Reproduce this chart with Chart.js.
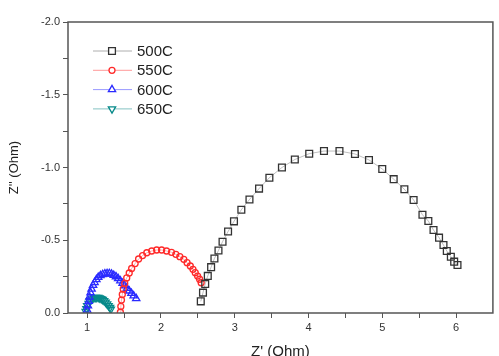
<!DOCTYPE html>
<html>
<head>
<meta charset="utf-8">
<script src="https://cdn.jsdelivr.net/npm/chart.js@4.4.0/dist/chart.umd.min.js"></script>
<style>
  html, body { margin: 0; padding: 0; background: #fff; }
  #wrap { width: 499px; height: 356px; }
</style>
</head>
<body>
<div id="wrap"><canvas id="nyquist" width="499" height="356"></canvas></div>
<script>
// Nyquist data, Z' (x) and Z'' (y) in Ohm
const seriesLabels = ['500C', '550C', '600C', '650C'];

const zRe500 = [2.54, 2.57, 2.60, 2.635, 2.68, 2.725, 2.78, 2.835, 2.91, 2.99, 3.09, 3.20, 3.33, 3.47,
  3.64, 3.815, 4.01, 4.21, 4.42, 4.63, 4.82, 5.00, 5.155, 5.30, 5.425, 5.545, 5.625, 5.695, 5.77,
  5.83, 5.875, 5.93, 5.975, 6.02];
const zIm500 = [-0.08, -0.14, -0.2, -0.255, -0.315, -0.375, -0.43, -0.49, -0.56, -0.63, -0.71, -0.78, -0.855, -0.93,
  -1.0, -1.055, -1.095, -1.113, -1.113, -1.093, -1.052, -0.99, -0.92, -0.85, -0.777, -0.675, -0.632, -0.57, -0.518,
  -0.467, -0.426, -0.387, -0.353, -0.33];

const zRe550 = [1.45, 1.456, 1.465, 1.476, 1.489, 1.509, 1.536, 1.57, 1.603, 1.65, 1.697, 1.751, 1.808, 1.875,
  1.942, 2.009, 2.076, 2.143, 2.202, 2.256, 2.31, 2.354, 2.398, 2.434, 2.465, 2.497, 2.524, 2.545];
const zIm550 = [-0.005, -0.045, -0.089, -0.127, -0.165, -0.203, -0.241, -0.275, -0.306, -0.34, -0.371, -0.395, -0.414, -0.426,
  -0.433, -0.433, -0.426, -0.417, -0.403, -0.387, -0.369, -0.346, -0.323, -0.3, -0.277, -0.254, -0.232, -0.208];

const zRe600 = [1.0, 1.01, 1.02, 1.03, 1.045, 1.06, 1.08, 1.1, 1.125, 1.15, 1.18, 1.21, 1.24, 1.27,
  1.3, 1.33, 1.36, 1.39, 1.42, 1.45, 1.48, 1.51, 1.54, 1.57, 1.6, 1.63, 1.665];
const zIm600 = [-0.02, -0.05, -0.08, -0.11, -0.14, -0.165, -0.19, -0.21, -0.23, -0.245, -0.257, -0.265, -0.27, -0.272,
  -0.272, -0.268, -0.26, -0.25, -0.237, -0.222, -0.205, -0.188, -0.17, -0.152, -0.135, -0.118, -0.1];

const zRe650 = [0.98, 0.99, 1.0, 1.02, 1.035, 1.05, 1.07, 1.09, 1.11, 1.13, 1.15, 1.17, 1.19, 1.21,
  1.23, 1.25, 1.27, 1.29, 1.31, 1.32];
const zIm650 = [-0.01, -0.03, -0.05, -0.065, -0.08, -0.09, -0.098, -0.103, -0.106, -0.107, -0.106, -0.103, -0.098, -0.092,
  -0.084, -0.074, -0.062, -0.05, -0.037, -0.025];

const xMin = 0.74, xMax = 6.5;
const yMin = -2.0, yMax = 0.0;

function pairs(xs, ys) {
    return xs.map((x, i) => ({ x: x, y: ys[i] }));
}

function makeSeries(label, xs, ys, color, lineColor, style, radius, rotation) {
    return {
        label: label,
        data: pairs(xs, ys),
        showLine: true,
        borderColor: lineColor,
        borderWidth: 0.8,
        pointStyle: style,
        pointRotation: rotation,
        pointRadius: radius,
        pointHoverRadius: radius,
        pointBorderColor: color,
        pointBackgroundColor: 'rgba(0,0,0,0)',
        pointBorderWidth: 1.3,
        legendLine: lineColor
    };
}

// frame + legend drawn inside the plot, top left
const frameAndLegend = {
    id: 'frameAndLegend',
    afterDatasetsDraw(chart) {
        const ctx = chart.ctx;
        const a = chart.chartArea;
        ctx.save();
        ctx.strokeStyle = '#555';
        ctx.lineWidth = 1.5;
        ctx.strokeRect(a.left, a.top, a.right - a.left, a.bottom - a.top);

        chart.data.datasets.forEach((ds, i) => {
            const y = 51 + i * 19.3;
            ctx.strokeStyle = ds.legendLine;
            ctx.lineWidth = 1;
            ctx.beginPath();
            ctx.moveTo(93, y);
            ctx.lineTo(132, y);
            ctx.stroke();
            ctx.strokeStyle = ds.pointBorderColor;
            ctx.fillStyle = '#fff';
            ctx.lineWidth = 1.3;
            Chart.helpers.drawPoint(ctx, {
                pointStyle: ds.pointStyle,
                rotation: ds.pointRotation,
                radius: ds.pointRadius,
                borderWidth: 1.3
            }, 112, y);
            ctx.fillStyle = '#222';
            ctx.font = '15px "Liberation Sans", Arial, sans-serif';
            ctx.textBaseline = 'middle';
            ctx.textAlign = 'left';
            ctx.fillText(ds.label, 137, y + 1);
        });
        ctx.restore();
    }
};

const ctx = document.getElementById('nyquist').getContext('2d');
new Chart(ctx, {
    type: 'scatter',
    data: {
        datasets: [
            makeSeries(seriesLabels[0], zRe500, zIm500, '#333', 'rgba(120,120,120,0.6)', 'rect', 4.8, 0),
            makeSeries(seriesLabels[1], zRe550, zIm550, '#ff2a2a', 'rgba(255,110,110,0.7)', 'circle', 3, 0),
            makeSeries(seriesLabels[2], zRe600, zIm600, '#2a2aff', 'rgba(110,110,255,0.7)', 'triangle', 4.2, 0),
            makeSeries(seriesLabels[3], zRe650, zIm650, '#078a8a', 'rgba(80,170,170,0.7)', 'triangle', 4.2, 180)
        ]
    },
    options: {
        responsive: false,
        animation: false,
        devicePixelRatio: 1,
        layout: { padding: { top: 22, right: 1, left: 0, bottom: 0 } },
        plugins: {
            legend: { display: false },
            tooltip: { enabled: false }
        },
        scales: {
            x: {
                type: 'linear',
                min: xMin,
                max: xMax,
                afterFit(scale) { scale.height = 43; },
                afterBuildTicks(scale) {
                    scale.ticks = scale.ticks.filter(t =>
                        Math.abs(t.value * 2 - Math.round(t.value * 2)) < 1e-6 &&
                        t.value > xMin && t.value < xMax - 1e-6);
                },
                grid: { drawOnChartArea: false, drawTicks: true, tickLength: 5, tickColor: '#555', tickWidth: 1 },
                border: { display: false },
                ticks: {
                    stepSize: 0.5,
                    includeBounds: false,
                    padding: 3,
                    color: '#333',
                    font: { family: '"Liberation Sans", Arial, sans-serif', size: 11 },
                    maxRotation: 0,
                    autoSkip: false,
                    callback: v => Math.abs(v - Math.round(v)) < 1e-6 ? String(Math.round(v)) : ''
                },
                title: {
                    display: true,
                    text: "Z' (Ohm)",
                    color: '#222',
                    font: { family: '"Liberation Sans", Arial, sans-serif', size: 15 },
                    padding: { top: 0, bottom: -5 }
                }
            },
            y: {
                type: 'linear',
                min: yMin,
                max: yMax,
                reverse: true,
                afterFit(scale) { scale.width = 68; },
                afterBuildTicks(scale) {
                    scale.ticks = scale.ticks.filter(t =>
                        Math.abs(t.value * 4 - Math.round(t.value * 4)) < 1e-6);
                },
                grid: { drawOnChartArea: false, drawTicks: true, tickLength: 5, tickColor: '#555', tickWidth: 1 },
                border: { display: false },
                ticks: {
                    stepSize: 0.25,
                    padding: 3,
                    color: '#333',
                    font: { family: '"Liberation Sans", Arial, sans-serif', size: 11 },
                    autoSkip: false,
                    callback: v => Math.abs(v * 2 - Math.round(v * 2)) < 1e-6 ? v.toFixed(1) : ''
                },
                title: {
                    display: true,
                    text: "Z'' (Ohm)",
                    color: '#222',
                    font: { family: '"Liberation Sans", Arial, sans-serif', size: 13 },
                    padding: { top: 7, bottom: 0 }
                }
            }
        }
    },
    plugins: [frameAndLegend]
});
</script>
</body>
</html>
